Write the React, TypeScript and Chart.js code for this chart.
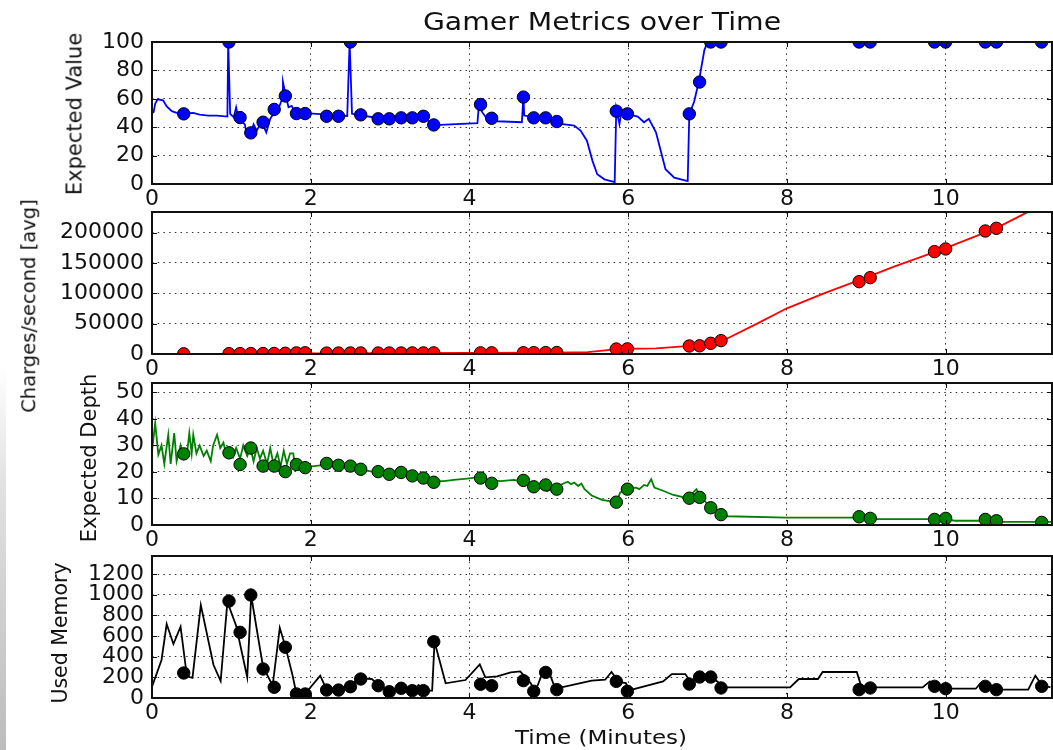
import React, { useEffect, useRef } from "react";
import { Chart, registerables } from "chart.js";

Chart.register(...registerables);

// ---------- data ----------
const timeTicks = [0, 2, 4, 6, 8, 10];
const X_MAX = 11.34;

const eventTimes = [
  0.40, 0.97, 1.11, 1.245, 1.40, 1.54, 1.68, 1.82, 1.93, 2.20, 2.35, 2.50, 2.63,
  2.85, 2.99, 3.14, 3.28, 3.42, 3.55, 4.14, 4.28, 4.68, 4.81, 4.96, 5.10, 5.85,
  5.99, 6.77, 6.90, 7.04, 7.17, 8.91, 9.05, 9.86, 10.00, 10.50, 10.64, 11.21,
];

const valueMarkers = [
  49.4, 100, 46.8, 36, 43.5, 52.5, 62, 49.6, 49.6, 47.7, 47.7, 100, 48.7, 45.9,
  45.9, 46.6, 46.6, 47.7, 41.6, 56, 46.3, 61.2, 46.6, 46.6, 44, 51.3, 49.4, 49.4,
  71.8, 100, 100, 100, 100, 100, 100, 100, 100, 100,
];

const chargeMarkers = [
  300, 500, 600, 700, 800, 900, 1200, 1800, 2000, 1500, 1600, 1700, 1700, 1600,
  1700, 1700, 1800, 1800, 1900, 1900, 2000, 2100, 2200, 2300, 2400, 8200, 8500,
  13200, 13500, 17600, 22000, 119200, 125800, 168700, 173100, 202700, 207100,
  250000,
];

const depthMarkers = [
  26.8, 27.2, 22.8, 29.0, 22.2, 22.2, 20.1, 22.8, 21.6, 23.2, 22.5, 22.2, 21.0,
  20.1, 19.1, 19.8, 18.5, 17.7, 16.1, 17.7, 15.7, 16.8, 14.4, 15.1, 13.5, 8.6,
  13.5, 10.1, 10.4, 6.5, 3.9, 3.1, 2.5, 2.1, 2.5, 2.1, 1.6, 1.0,
];

const memoryMarkers = [
  242, 939, 636, 997, 281, 104, 491, 39, 39, 77, 77, 109, 184, 119, 61, 94, 71,
  71, 545, 133, 119, 168, 65, 248, 81, 161, 65, 135, 203, 203, 97, 81, 97, 113,
  90, 113, 81, 113,
];

const valueLine: [number, number][] = [
  [0, 50], [0.02, 50.6], [0.04, 56.5], [0.07, 59.6], [0.14, 58.9], [0.185, 54.6],
  [0.25, 51.3], [0.31, 50.1], [0.40, 49.6], [0.52, 50.1], [0.60, 48.9], [0.71, 48.2],
  [0.82, 48.2], [0.95, 47.5], [0.96, 100], [0.985, 49.4], [1.03, 47], [1.06, 54],
  [1.09, 46], [1.17, 42], [1.19, 36], [1.24, 35], [1.28, 42], [1.32, 37.6],
  [1.38, 44], [1.44, 36.4], [1.49, 45.9], [1.53, 49.6], [1.565, 56], [1.60, 54],
  [1.64, 60], [1.65, 71.8], [1.68, 63.6], [1.72, 54], [1.76, 55], [1.80, 50.6],
  [1.90, 49.9], [2.08, 49.4], [2.30, 48.5], [2.46, 47.9], [2.49, 100], [2.52, 49.4],
  [2.63, 48.3], [2.79, 47], [2.99, 46.6], [3.41, 46.6], [3.55, 42.3], [3.63, 41.6],
  [4.10, 42.8], [4.12, 56], [4.16, 50.6], [4.22, 45.9], [4.35, 44.2], [4.66, 43.5],
  [4.68, 61.2], [4.69, 48.2], [4.82, 47], [4.99, 46.6], [5.15, 42.3], [5.32, 41.1],
  [5.40, 37.6], [5.48, 30.5], [5.55, 16.3], [5.61, 6.9], [5.70, 3.3], [5.83, 1.4],
  [5.85, 53], [5.89, 42.3], [5.91, 49.4], [5.98, 49.4], [6.12, 47.5], [6.20, 43.5],
  [6.26, 45.9], [6.35, 36.4], [6.41, 23.4], [6.47, 10.4], [6.58, 4.5], [6.75, 2.1],
  [6.77, 49.4], [6.83, 57.7], [6.89, 72], [6.96, 94.3], [7.00, 100], [11.34, 100],
];

const chargeLine: [number, number][] = [
  [0, 0], [1, 300], [2, 1000], [3, 1500], [4, 1800], [5.1, 2300], [5.49, 3100],
  [5.71, 6000], [5.85, 8200], [6.35, 9300], [6.65, 12000], [6.9, 14500],
  [7.05, 18000], [7.21, 23100], [7.63, 50500], [8.0, 75300], [8.49, 101000],
  [8.92, 122000], [9.35, 144000], [9.99, 174000], [10.63, 207000], [11.02, 233000],
  [11.34, 254000],
];

const depthLine: [number, number][] = [
  [0, 27.8], [0.04, 38.3], [0.08, 26.5], [0.12, 30], [0.155, 23], [0.205, 34],
  [0.235, 23], [0.28, 34.6], [0.31, 24], [0.36, 30], [0.40, 25], [0.44, 26.5],
  [0.47, 34.6], [0.50, 27], [0.52, 34], [0.56, 27], [0.60, 30], [0.65, 26],
  [0.69, 28], [0.74, 24], [0.77, 30], [0.82, 34], [0.86, 29], [0.90, 31],
  [0.94, 26], [0.98, 27.5], [1.02, 25.5], [1.06, 29], [1.11, 25], [1.15, 30],
  [1.20, 26], [1.24, 29], [1.28, 24], [1.32, 29], [1.36, 25], [1.40, 28],
  [1.45, 23], [1.49, 29], [1.53, 23], [1.58, 27], [1.62, 22], [1.66, 28],
  [1.70, 23], [1.74, 27], [1.78, 27], [1.80, 22.5], [1.87, 22], [1.99, 22],
  [2.12, 22.5], [2.29, 23], [2.50, 21.8], [2.70, 20.5], [2.91, 19.5], [3.12, 19],
  [3.33, 18], [3.55, 16.5], [3.68, 16.5], [3.80, 17], [3.97, 17.5], [4.12, 18],
  [4.23, 17], [4.39, 16.5], [4.56, 17], [4.64, 16.5], [4.68, 16.8], [4.81, 15.4],
  [4.98, 12.7], [5.11, 14.7], [5.24, 16.3], [5.28, 15.4], [5.32, 16.0], [5.37, 14.7],
  [5.41, 15.6], [5.45, 13.5], [5.54, 11.1], [5.67, 9.5], [5.80, 8.8], [5.85, 8.6],
  [5.90, 12.3], [5.99, 13.5], [6.10, 14.1], [6.14, 13.5], [6.20, 15.1], [6.24, 14.7],
  [6.29, 17.2], [6.33, 14.1], [6.44, 12.9], [6.56, 11.4], [6.73, 10.2], [6.82, 12.3],
  [6.86, 13.5], [6.91, 10.7], [7.03, 7.0], [7.17, 3.9], [7.25, 3.3], [8.00, 2.8],
  [8.88, 2.8], [9.05, 2.2], [9.99, 2.2], [10.12, 1.6], [10.63, 1.6], [10.72, 1.2],
  [11.34, 1.2],
];

const memoryLine: [number, number][] = [
  [0, 109], [0.12, 368], [0.185, 716], [0.27, 523], [0.36, 690], [0.44, 210],
  [0.51, 196], [0.615, 900], [0.775, 319], [0.865, 165], [0.95, 930], [1.06, 700],
  [1.20, 200], [1.25, 990], [1.36, 480], [1.40, 300], [1.52, 120], [1.61, 680],
  [1.68, 500], [1.77, 222], [1.82, 40], [1.95, 60], [2.12, 216], [2.20, 80],
  [2.35, 90], [2.50, 120], [2.60, 190], [2.77, 184], [2.86, 120], [2.99, 60],
  [3.14, 100], [3.28, 70], [3.36, 126], [3.42, 70], [3.53, 71], [3.56, 545],
  [3.70, 142], [3.95, 174], [4.13, 326], [4.20, 200], [4.35, 210], [4.52, 248],
  [4.64, 258], [4.77, 145], [4.83, 65], [4.92, 242], [5.00, 258], [5.07, 113],
  [5.16, 103], [5.54, 168], [5.71, 177], [5.79, 252], [5.88, 155], [5.97, 145],
  [6.01, 74], [6.44, 161], [6.55, 232], [6.72, 232], [6.78, 161], [6.87, 194],
  [7.04, 194], [7.12, 161], [7.21, 103], [8.04, 103], [8.15, 184], [8.39, 184],
  [8.45, 252], [8.88, 252], [8.94, 103], [9.71, 103], [9.80, 161], [9.88, 145],
  [9.97, 90], [10.38, 90], [10.44, 145], [10.55, 113], [10.63, 81], [11.04, 81],
  [11.13, 216], [11.21, 129], [11.32, 103],
];

const valueTicks = [0, 20, 40, 60, 80, 100];
const chargeTicks = [0, 50000, 100000, 150000, 200000];
const depthTicks = [0, 10, 20, 30, 40, 50];
const memoryTicks = [0, 200, 400, 600, 800, 1000, 1200];

// ---------- layout ----------
const PAD_TOP = 26;
const PLOT_H = 142;
const XAXIS_H = 32;
const Y_W = 152;
const PLOT_RIGHT = 1052;
const CANVAS_W = 1053;
const CANVAS_H = PAD_TOP + PLOT_H + XAXIS_H;
const FONT = "DejaVu Sans";

type Panel = {
  top: number;
  yMax: number;
  yTicks: number[];
  line: [number, number][];
  markers: number[];
  color: string;
};

const panels: Panel[] = [
  { top: 42, yMax: 100, yTicks: valueTicks, line: valueLine, markers: valueMarkers, color: "#0000ff" },
  { top: 212, yMax: 234000, yTicks: chargeTicks, line: chargeLine, markers: chargeMarkers, color: "#ff0000" },
  { top: 383, yMax: 53.5, yTicks: depthTicks, line: depthLine, markers: depthMarkers, color: "#008000" },
  { top: 556, yMax: 1375, yTicks: memoryTicks, line: memoryLine, markers: memoryMarkers, color: "#000000" },
];

const framePlugin = {
  id: "mplFrame",
  afterDraw(chart: any) {
    const { ctx, chartArea: a, scales } = chart;
    ctx.save();
    ctx.strokeStyle = "#111";
    ctx.lineWidth = 1;
    ctx.beginPath();
    for (const t of scales.x.ticks) {
      const px = Math.round(scales.x.getPixelForValue(t.value)) + 0.5;
      ctx.moveTo(px, a.bottom);
      ctx.lineTo(px, a.bottom - 5);
      ctx.moveTo(px, a.top);
      ctx.lineTo(px, a.top + 5);
    }
    for (const t of scales.y.ticks) {
      const py = Math.round(scales.y.getPixelForValue(t.value)) + 0.5;
      ctx.moveTo(a.left, py);
      ctx.lineTo(a.left + 5, py);
      ctx.moveTo(a.right, py);
      ctx.lineTo(a.right - 5, py);
    }
    ctx.stroke();
    ctx.lineWidth = 2;
    ctx.strokeRect(a.left, a.top, a.right - a.left, a.bottom - a.top);
    ctx.restore();
  },
};

function makeConfig(p: Panel): any {
  const gridStyle = { color: "rgba(0,0,0,0.8)", lineWidth: 1, drawTicks: false };
  const borderStyle = { display: false, dash: [1.5, 4.2] };
  const tickFont = { family: FONT, size: 22 };
  return {
    type: "scatter",
    data: {
      datasets: [
        {
          data: eventTimes.map((t, i) => ({ x: t, y: p.markers[i] })),
          showLine: false,
          pointRadius: 6.2,
          pointBackgroundColor: p.color,
          pointBorderColor: "#000",
          pointBorderWidth: 1,
          clip: 0,
        },
        {
          data: p.line.map(([x, y]) => ({ x, y })),
          showLine: true,
          borderColor: p.color,
          borderWidth: 1.8,
          pointRadius: 0,
          fill: false,
          tension: 0,
          clip: 0,
        },
      ],
    },
    options: {
      responsive: false,
      animation: false,
      events: [],
      layout: {
        autoPadding: false,
        padding: { top: PAD_TOP, right: CANVAS_W - PLOT_RIGHT, left: 0, bottom: 0 },
      },
      plugins: { legend: { display: false }, tooltip: { enabled: false }, title: { display: false } },
      scales: {
        x: {
          type: "linear",
          min: 0,
          max: X_MAX,
          afterBuildTicks: (s: any) => {
            s.ticks = timeTicks.map((v) => ({ value: v }));
          },
          afterFit: (s: any) => {
            s.height = XAXIS_H;
            s.paddingLeft = 0;
            s.paddingRight = 0;
          },
          ticks: {
            font: tickFont,
            color: "#111",
            padding: 2,
            maxRotation: 0,
            autoSkip: false,
            callback: (v: any) => String(v),
          },
          grid: gridStyle,
          border: borderStyle,
        },
        y: {
          type: "linear",
          min: 0,
          max: p.yMax,
          afterBuildTicks: (s: any) => {
            s.ticks = p.yTicks.map((v) => ({ value: v }));
          },
          afterFit: (s: any) => {
            s.width = Y_W;
          },
          ticks: {
            font: tickFont,
            color: "#111",
            padding: 8,
            autoSkip: false,
            callback: (v: any) => String(v),
          },
          grid: gridStyle,
          border: borderStyle,
        },
      },
    },
    plugins: [framePlugin],
  };
}

function VLabel(props: { text: string; cx: number; cy: number; size: number }) {
  return (
    <div
      style={{
        position: "absolute",
        left: props.cx,
        top: props.cy,
        transform: "translate(-50%, -50%) rotate(-90deg)",
        fontFamily: FONT,
        fontSize: props.size,
        lineHeight: `${props.size}px`,
        whiteSpace: "nowrap",
        color: "#111",
      }}
    >
      {props.text}
    </div>
  );
}

export default function App() {
  const refs = useRef<(HTMLCanvasElement | null)[]>([]);

  useEffect(() => {
    const charts = panels.map((p, i) => new Chart(refs.current[i] as HTMLCanvasElement, makeConfig(p)));
    return () => charts.forEach((c) => c.destroy());
  }, []);

  return (
    <div
      style={{
        position: "fixed",
        left: 0,
        top: 0,
        width: 1053,
        height: 750,
        background: "#fff",
        overflow: "hidden",
      }}
    >
      <div
        style={{
          position: "absolute",
          left: 0,
          top: 365,
          width: 6,
          height: 385,
          background: "linear-gradient(to bottom, #ffffff, #e2e2e2 30%, #bcbcbc)",
        }}
      />
      {panels.map((p, i) => (
        <canvas
          key={i}
          ref={(el) => {
            refs.current[i] = el;
          }}
          width={CANVAS_W}
          height={CANVAS_H}
          style={{
            position: "absolute",
            left: 0,
            top: p.top - PAD_TOP,
            width: CANVAS_W,
            height: CANVAS_H,
          }}
        />
      ))}
      <div
        style={{
          position: "absolute",
          left: 602,
          top: 10,
          transform: "translateX(-50%) scaleX(1.18)",
          fontFamily: FONT,
          fontSize: 24,
          lineHeight: "24px",
          whiteSpace: "nowrap",
          color: "#111",
        }}
      >
        Gamer Metrics over Time
      </div>
      <div
        style={{
          position: "absolute",
          left: 601,
          top: 727,
          transform: "translateX(-50%) scaleX(1.15)",
          fontFamily: FONT,
          fontSize: 20,
          lineHeight: "20px",
          whiteSpace: "nowrap",
          color: "#111",
        }}
      >
        Time (Minutes)
      </div>
      <VLabel text="Expected Value" cx={75} cy={114} size={21} />
      <VLabel text="Charges/second [avg]" cx={29} cy={306} size={19.5} />
      <VLabel text="Expected Depth" cx={89} cy={458} size={21} />
      <VLabel text="Used Memory" cx={60} cy={633} size={20.5} />
    </div>
  );
}
